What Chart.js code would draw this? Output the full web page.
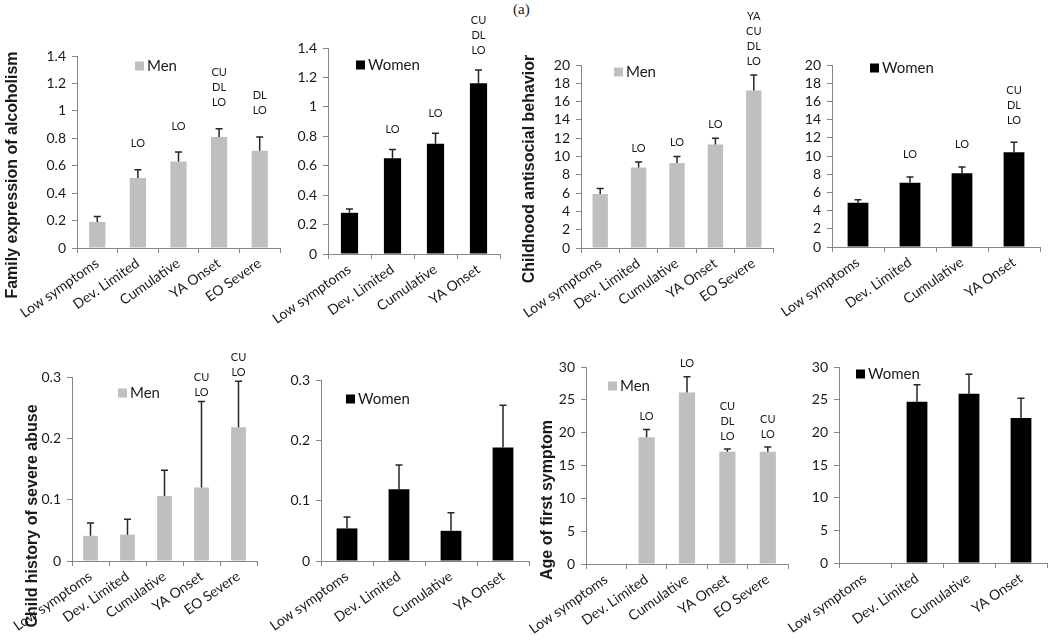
<!DOCTYPE html>
<html>
<head>
<meta charset="utf-8">
<script src="https://cdn.jsdelivr.net/npm/chart.js@4.4.0/dist/chart.umd.min.js"></script>
<style>
    body { margin: 0; background: #fff; width: 1050px; height: 641px; position: relative; overflow: hidden; }
    canvas.panel { position: absolute; left: 0; top: 0; }
    #tag { position: absolute; left: 513px; top: 1px; font-family: "Liberation Serif", serif; font-size: 15px; color: #222; }
</style>
</head>
<body>
<div id="tag">(a)</div>
<canvas id="p1" class="panel" width="1050" height="641"></canvas>
<canvas id="p2" class="panel" width="1050" height="641"></canvas>
<canvas id="p3" class="panel" width="1050" height="641"></canvas>
<canvas id="p4" class="panel" width="1050" height="641"></canvas>
<canvas id="p5" class="panel" width="1050" height="641"></canvas>
<canvas id="p6" class="panel" width="1050" height="641"></canvas>
<canvas id="p7" class="panel" width="1050" height="641"></canvas>
<canvas id="p8" class="panel" width="1050" height="641"></canvas>
<script>
// categories
var groups5 = ['Low symptoms', 'Dev. Limited', 'Cumulative', 'YA Onset', 'EO Severe'];
var groups4 = ['Low symptoms', 'Dev. Limited', 'Cumulative', 'YA Onset'];

// family expression of alcoholism
var alcMen = [0.19, 0.51, 0.63, 0.81, 0.71];
var alcMenErr = [0.04, 0.06, 0.07, 0.06, 0.10];
var alcMenNotes = [[], ['LO'], ['LO'], ['CU', 'DL', 'LO'], ['DL', 'LO']];
var alcWomen = [0.28, 0.65, 0.75, 1.16];
var alcWomenErr = [0.025, 0.06, 0.07, 0.09];
var alcWomenNotes = [[], ['LO'], ['LO'], ['CU', 'DL', 'LO']];
var alcTicks = [0, 0.2, 0.4, 0.6, 0.8, 1, 1.2, 1.4];

// childhood antisocial behavior
var casMen = [5.9, 8.8, 9.3, 11.3, 17.2];
var casMenErr = [0.6, 0.6, 0.7, 0.7, 1.7];
var casMenNotes = [[], ['LO'], ['LO'], ['LO'], ['YA', 'CU', 'DL', 'LO']];
var casWomen = [4.85, 7.05, 8.1, 10.4];
var casWomenErr = [0.35, 0.65, 0.7, 1.1];
var casWomenNotes = [[], ['LO'], ['LO'], ['CU', 'DL', 'LO']];
var casTicks = [0, 2, 4, 6, 8, 10, 12, 14, 16, 18, 20];

// child history of severe abuse
var abuseMen = [0.041, 0.043, 0.106, 0.12, 0.218];
var abuseMenErr = [0.021, 0.025, 0.042, 0.14, 0.075];
var abuseMenNotes = [[], [], [], ['CU', 'LO'], ['CU', 'LO']];
var abuseWomen = [0.054, 0.119, 0.05, 0.188];
var abuseWomenErr = [0.019, 0.04, 0.03, 0.07];
var abuseWomenNotes = [[], [], [], []];
var abuseTicks = [0, 0.1, 0.2, 0.3];

// age of first symptom
var ageMen = [0, 19.3, 26.1, 17.1, 17.1];
var ageMenErr = [0, 1.2, 2.4, 0.4, 0.7];
var ageMenNotes = [[], ['LO'], ['LO'], ['CU', 'DL', 'LO'], ['CU', 'LO']];
var ageWomen = [0, 24.7, 25.9, 22.2];
var ageWomenErr = [0, 2.6, 3.0, 3.0];
var ageWomenNotes = [[], [], [], []];
var ageTicks = [0, 5, 10, 15, 20, 25, 30];

var GRAY = '#bfbfbf';
var BLACK = '#000000';
var AXIS = '#868686';
var INK = '#1a1a1a';

// error bars, letters over the bars, legend and axis title
var extras = {
    id: 'extras',
    afterDatasetsDraw: function (chart) {
        var o = chart.options.plugins.extras;
        var ctx = chart.ctx;
        var meta = chart.getDatasetMeta(0);
        var vals = chart.data.datasets[0].data;
        var y = chart.scales.y;
        ctx.save();
        ctx.strokeStyle = '#262626';
        ctx.lineWidth = 1.5;
        vals.forEach(function (v, i) {
            if (!o.errors[i]) return;
            var x = meta.data[i].x;
            var y0 = y.getPixelForValue(v);
            var y1 = y.getPixelForValue(v + o.errors[i]);
            ctx.beginPath();
            ctx.moveTo(x, y0);
            ctx.lineTo(x, y1);
            ctx.moveTo(x - 3.5, y1);
            ctx.lineTo(x + 3.5, y1);
            ctx.stroke();
        });
        ctx.fillStyle = INK;
        ctx.font = '11px Lato';
        ctx.textAlign = 'center';
        ctx.textBaseline = 'middle';
        o.notes.forEach(function (lines, i) {
            var x = meta.data[i].x;
            var base = y.getPixelForValue(vals[i] + o.errors[i]) - o.gap;
            for (var k = 0; k < lines.length; k++) {
                ctx.fillText(lines[k], x, base - (lines.length - 1 - k) * 15);
            }
        });
        // legend
        ctx.fillStyle = chart.data.datasets[0].backgroundColor;
        ctx.fillRect(o.legend[0], o.legend[1] - 4.5, 9, 9);
        ctx.fillStyle = INK;
        ctx.font = '15px Lato';
        ctx.textAlign = 'left';
        ctx.fillText(chart.data.datasets[0].label, o.legend[0] + 12, o.legend[1]);
        // y title
        if (o.title) {
            ctx.translate(o.titlePos[0], o.titlePos[1]);
            ctx.rotate(-Math.PI / 2);
            ctx.font = 'bold 16px "Liberation Sans"';
            ctx.textAlign = 'center';
            ctx.fillText(o.title, 0, 0);
        }
        ctx.restore();
    }
};

function makePanel(id, c) {
    return new Chart(document.getElementById(id).getContext('2d'), {
        type: 'bar',
        data: {
            labels: c.labels,
            datasets: [{
                label: c.name,
                data: c.values,
                backgroundColor: c.color,
                borderWidth: 0,
                barPercentage: 0.4,
                categoryPercentage: 1
            }]
        },
        options: {
            responsive: false,
            animation: false,
            layout: {
                padding: { left: c.box[0] - 50, top: c.box[1], right: 1050 - c.box[2], bottom: 641 - c.box[3] - 76 }
            },
            plugins: {
                legend: { display: false },
                tooltip: { enabled: false },
                extras: { errors: c.errors, notes: c.notes, gap: c.gap, legend: c.legend, title: c.title, titlePos: c.titlePos }
            },
            scales: {
                x: {
                    afterFit: function (s) { s.height = 76; },
                    border: { color: AXIS, width: 1 },
                    grid: { display: true, drawOnChartArea: false, color: AXIS, tickLength: 5 },
                    ticks: { color: INK, font: { family: 'Lato', size: 14 }, minRotation: 35, maxRotation: 35, autoSkip: false, padding: 2 }
                },
                y: {
                    min: 0,
                    max: c.ticks[c.ticks.length - 1],
                    afterFit: function (s) { s.width = 50; },
                    afterBuildTicks: function (s) { s.ticks = c.ticks.map(function (v) { return { value: v }; }); },
                    border: { color: AXIS, width: 1 },
                    grid: { display: true, drawOnChartArea: false, color: AXIS, tickLength: 5 },
                    ticks: {
                        color: INK, font: { family: 'Lato', size: 14 }, padding: 6, autoSkip: false,
                        callback: function (v) { return String(+v.toFixed(2)); }
                    }
                }
            }
        },
        plugins: [extras]
    });
}

var chart1 = makePanel('p1', {
    labels: groups5, name: 'Men', values: alcMen, errors: alcMenErr, notes: alcMenNotes, ticks: alcTicks,
    color: GRAY, box: [77, 56, 280, 248], gap: 26, legend: [135, 66],
    title: 'Family expression of alcoholism', titlePos: [13, 175]
});
var chart2 = makePanel('p2', {
    labels: groups4, name: 'Women', values: alcWomen, errors: alcWomenErr, notes: alcWomenNotes, ticks: alcTicks,
    color: BLACK, box: [328, 48, 500, 254], gap: 20, legend: [356, 65]
});
var chart3 = makePanel('p3', {
    labels: groups5, name: 'Men', values: casMen, errors: casMenErr, notes: casMenNotes, ticks: casTicks,
    color: GRAY, box: [581, 65, 773, 248], gap: 14, legend: [614, 72],
    title: 'Childhood antisocial behavior', titlePos: [530, 169]
});
var chart4 = makePanel('p4', {
    labels: groups4, name: 'Women', values: casWomen, errors: casWomenErr, notes: casWomenNotes, ticks: casTicks,
    color: BLACK, box: [832, 65, 1040, 247], gap: 22, legend: [870, 68]
});
var chart5 = makePanel('p5', {
    labels: groups5, name: 'Men', values: abuseMen, errors: abuseMenErr, notes: abuseMenNotes, ticks: abuseTicks,
    color: GRAY, box: [72, 377, 257, 561], gap: 9, legend: [118, 393],
    title: 'Child history of severe abuse', titlePos: [33, 516]
});
var chart6 = makePanel('p6', {
    labels: groups4, name: 'Women', values: abuseWomen, errors: abuseWomenErr, notes: abuseWomenNotes, ticks: abuseTicks,
    color: BLACK, box: [321, 380, 529, 561], gap: 10, legend: [346, 399]
});
var chart7 = makePanel('p7', {
    labels: groups5, name: 'Men', values: ageMen, errors: ageMenErr, notes: ageMenNotes, ticks: ageTicks,
    color: GRAY, box: [586, 367, 788, 564], gap: 13, legend: [608, 386],
    title: 'Age of first symptom', titlePos: [548, 500]
});
var chart8 = makePanel('p8', {
    labels: groups4, name: 'Women', values: ageWomen, errors: ageWomenErr, notes: ageWomenNotes, ticks: ageTicks,
    color: BLACK, box: [839, 367, 1047, 563], gap: 10, legend: [856, 374]
});
</script>
</body>
</html>
